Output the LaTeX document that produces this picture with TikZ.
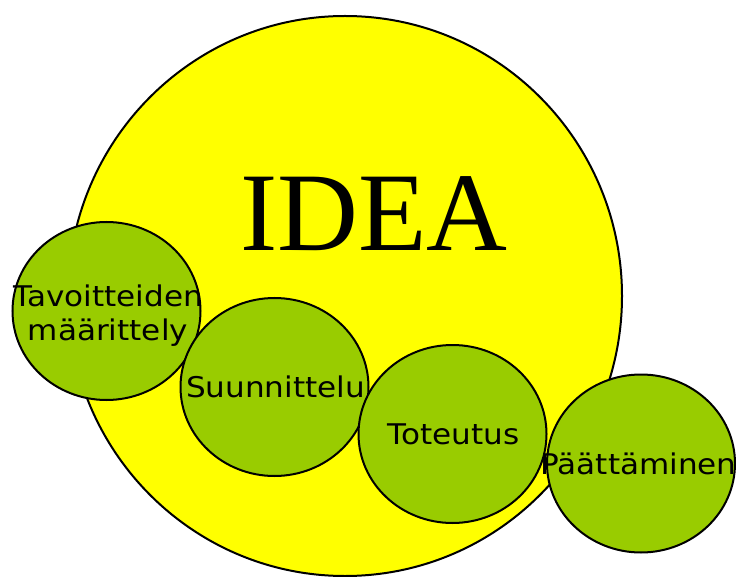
\documentclass[tikz,border=0pt]{standalone}
\usepackage{fontspec}
\newfontfamily\phasefont[FakeStretch=1.09]{DejaVu Sans}
\newfontfamily\ideafont{Liberation Serif}
\usetikzlibrary{shapes.geometric}
\definecolor{ideayellow}{HTML}{FFFF00}
\definecolor{phasegreen}{HTML}{99CC00}
\tikzset{
  bigblob/.style={ellipse, draw=black, line width=2pt, fill=ideayellow,
    minimum width=554pt, minimum height=560pt, inner sep=0pt, outer sep=0pt},
  phase/.style={ellipse, draw=black, line width=2pt, fill=phasegreen,
    minimum width=188pt, minimum height=178pt, inner sep=0pt, outer sep=0pt},
  phasetext/.style={font=\phasefont\fontsize{28.5}{34}\selectfont, align=center,
    inner sep=0pt, text=black},
}
\begin{document}
\begin{tikzpicture}[x=1pt, y=-1pt]
  \useasboundingbox (0,0) rectangle (736,577);
  % the idea circle
  \node[bigblob] (idea) at (345,296) {};
  \node[anchor=base, inner sep=0pt, font=\ideafont\fontsize{112}{112}\selectfont] (ideatext) at (374,251) {IDEA};
  % project phases
  \node[phase] (p1) at (106.5,311) {};
  \node[phase] (p2) at (274.5,387) {};
  \node[phase] (p3) at (452.5,434) {};
  \node[phase] (p4) at (641,463.5) {};
  \node[phasetext, xshift=1.5pt, yshift=-4.6pt] (t1) at (p1.center) {Tavoitteiden\\määrittely};
  \node[phasetext, xshift=1pt] (t2) at (p2.center) {Suunnittelu};
  \node[phasetext, xshift=1pt] (t3) at (p3.center) {Toteutus};
  \node[phasetext, xshift=-2.5pt] (t4) at (p4.center) {Päättäminen};
\end{tikzpicture}
\end{document}
